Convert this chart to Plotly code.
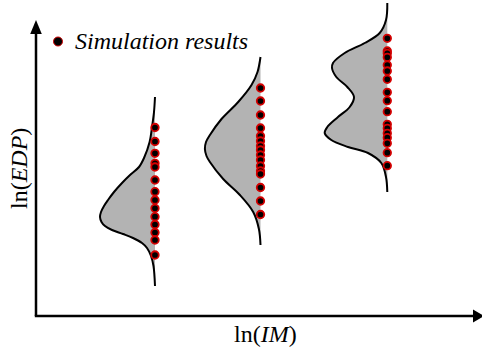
import plotly.graph_objects as go

# ln(IM) level of each stripe
im_levels = [1.19, 2.245, 3.513]

# Sideways probability density of ln(EDP) at each level:
# ln(EDP) ordinates and the corresponding density (drawn to the left)
edp_grid_1 = [2.19, 2.04, 1.91, 1.74, 1.58, 1.49, 1.41, 1.33, 1.24, 1.16, 1.10,
              1.04, 0.99, 0.94, 0.90, 0.86, 0.82, 0.78, 0.73, 0.68, 0.60, 0.50, 0.30]
density_1 = [0.0, 0.01, 0.027, 0.054, 0.11, 0.16, 0.25, 0.33, 0.41, 0.47, 0.51,
             0.54, 0.55, 0.535, 0.50, 0.43, 0.32, 0.22, 0.13, 0.08, 0.04, 0.015, 0.0]

edp_grid_2 = [2.59, 2.44, 2.31, 2.14, 1.97, 1.81, 1.74, 1.67, 1.60, 1.54, 1.37,
              1.21, 1.04, 0.87, 0.71]
density_2 = [0.0, 0.03, 0.09, 0.223, 0.39, 0.506, 0.545, 0.556, 0.54, 0.506, 0.373,
             0.206, 0.073, 0.016, 0.0]

edp_grid_3 = [3.13, 2.96, 2.83, 2.73, 2.63, 2.53, 2.48, 2.39, 2.29, 2.19, 2.09,
              1.99, 1.89, 1.83, 1.76, 1.69, 1.63, 1.53, 1.39, 1.24]
density_3 = [0.0, 0.013, 0.076, 0.226, 0.426, 0.543, 0.553, 0.51, 0.40, 0.333, 0.376,
             0.493, 0.60, 0.626, 0.56, 0.393, 0.193, 0.06, 0.013, 0.0]

# Simulated ln(EDP) results at each level
sim_1 = [1.885, 1.745, 1.627, 1.527, 1.49, 1.36, 1.243, 1.16, 1.077, 0.993,
         0.915, 0.835, 0.76, 0.61]
sim_2 = [2.28, 2.15, 2.01, 1.88, 1.80, 1.75, 1.70, 1.66, 1.61, 1.56, 1.50,
         1.45, 1.42, 1.285, 1.15, 1.015]
sim_3 = [2.777, 2.65, 2.627, 2.587, 2.51, 2.45, 2.367, 2.237, 2.153, 2.043,
         1.917, 1.877, 1.827, 1.783, 1.727, 1.633, 1.503]

grids = [edp_grid_1, edp_grid_2, edp_grid_3]
densities = [density_1, density_2, density_3]
sims = [sim_1, sim_2, sim_3]

FONT = "Liberation Serif"
FILL = "#b3b3b3"

fig = go.Figure()

for im, grid, dens in zip(im_levels, grids, densities):
    # baseline at the IM level, used as the fill boundary
    fig.add_trace(go.Scatter(
        x=[im] * len(grid), y=grid, mode="lines",
        line=dict(width=0, color=FILL, shape="spline"),
        hoverinfo="skip", showlegend=False))
    fig.add_trace(go.Scatter(
        x=[im - d for d in dens], y=grid, mode="lines",
        line=dict(width=2, color="black", shape="spline", smoothing=1.0),
        fill="tonextx", fillcolor=FILL,
        hoverinfo="skip", showlegend=False))

for im, sim in zip(im_levels, sims):
    fig.add_trace(go.Scatter(
        x=[im] * len(sim), y=sim, mode="markers",
        marker=dict(size=7.5, color="black",
                    line=dict(color="#d40000", width=1.8)),
        showlegend=False))

# Axes drawn as arrows
axis_style = dict(color="black", width=2.5)
shapes = [
    dict(type="line", x0=0, y0=0, x1=0, y1=2.83, xref="x", yref="y",
         line=axis_style),
    dict(type="line", x0=-0.012, y0=0, x1=4.38, y1=0, xref="x", yref="y",
         line=axis_style),
    dict(type="path", path="M -0.058 2.82 L 0.058 2.82 L 0 2.96 Z",
         xref="x", yref="y", fillcolor="black", line=dict(width=0)),
    dict(type="path", path="M 4.37 0.065 L 4.37 -0.065 L 4.48 0 Z",
         xref="x", yref="y", fillcolor="black", line=dict(width=0)),
    # legend key
    dict(type="circle", x0=0.175, y0=2.70, x1=0.265, y1=2.79,
         xref="x", yref="y", fillcolor="black",
         line=dict(color="#d40000", width=1)),
]

annotations = [
    dict(x=0.365, y=2.755, xref="x", yref="y", text="<i>Simulation results</i>",
         showarrow=False, xanchor="left", yanchor="middle",
         font=dict(family=FONT, size=24, color="black")),
    dict(x=-0.17, y=1.47, xref="x", yref="y", text="ln(<i>EDP</i>)",
         showarrow=False, textangle=-90, xanchor="center", yanchor="middle",
         font=dict(family=FONT, size=24, color="black")),
    dict(x=2.29, y=-0.18, xref="x", yref="y", text="ln(<i>IM</i>)",
         showarrow=False, xanchor="center", yanchor="middle",
         font=dict(family=FONT, size=24, color="black")),
]

fig.update_layout(
    width=482, height=350,
    margin=dict(l=0, r=0, t=0, b=0),
    paper_bgcolor="white", plot_bgcolor="white",
    font=dict(family=FONT),
    xaxis=dict(range=[-0.36, 4.46], visible=False, fixedrange=True),
    yaxis=dict(range=[-0.34, 3.16], visible=False, fixedrange=True),
    shapes=shapes, annotations=annotations,
    showlegend=False,
)

fig.write_html("out.html")
